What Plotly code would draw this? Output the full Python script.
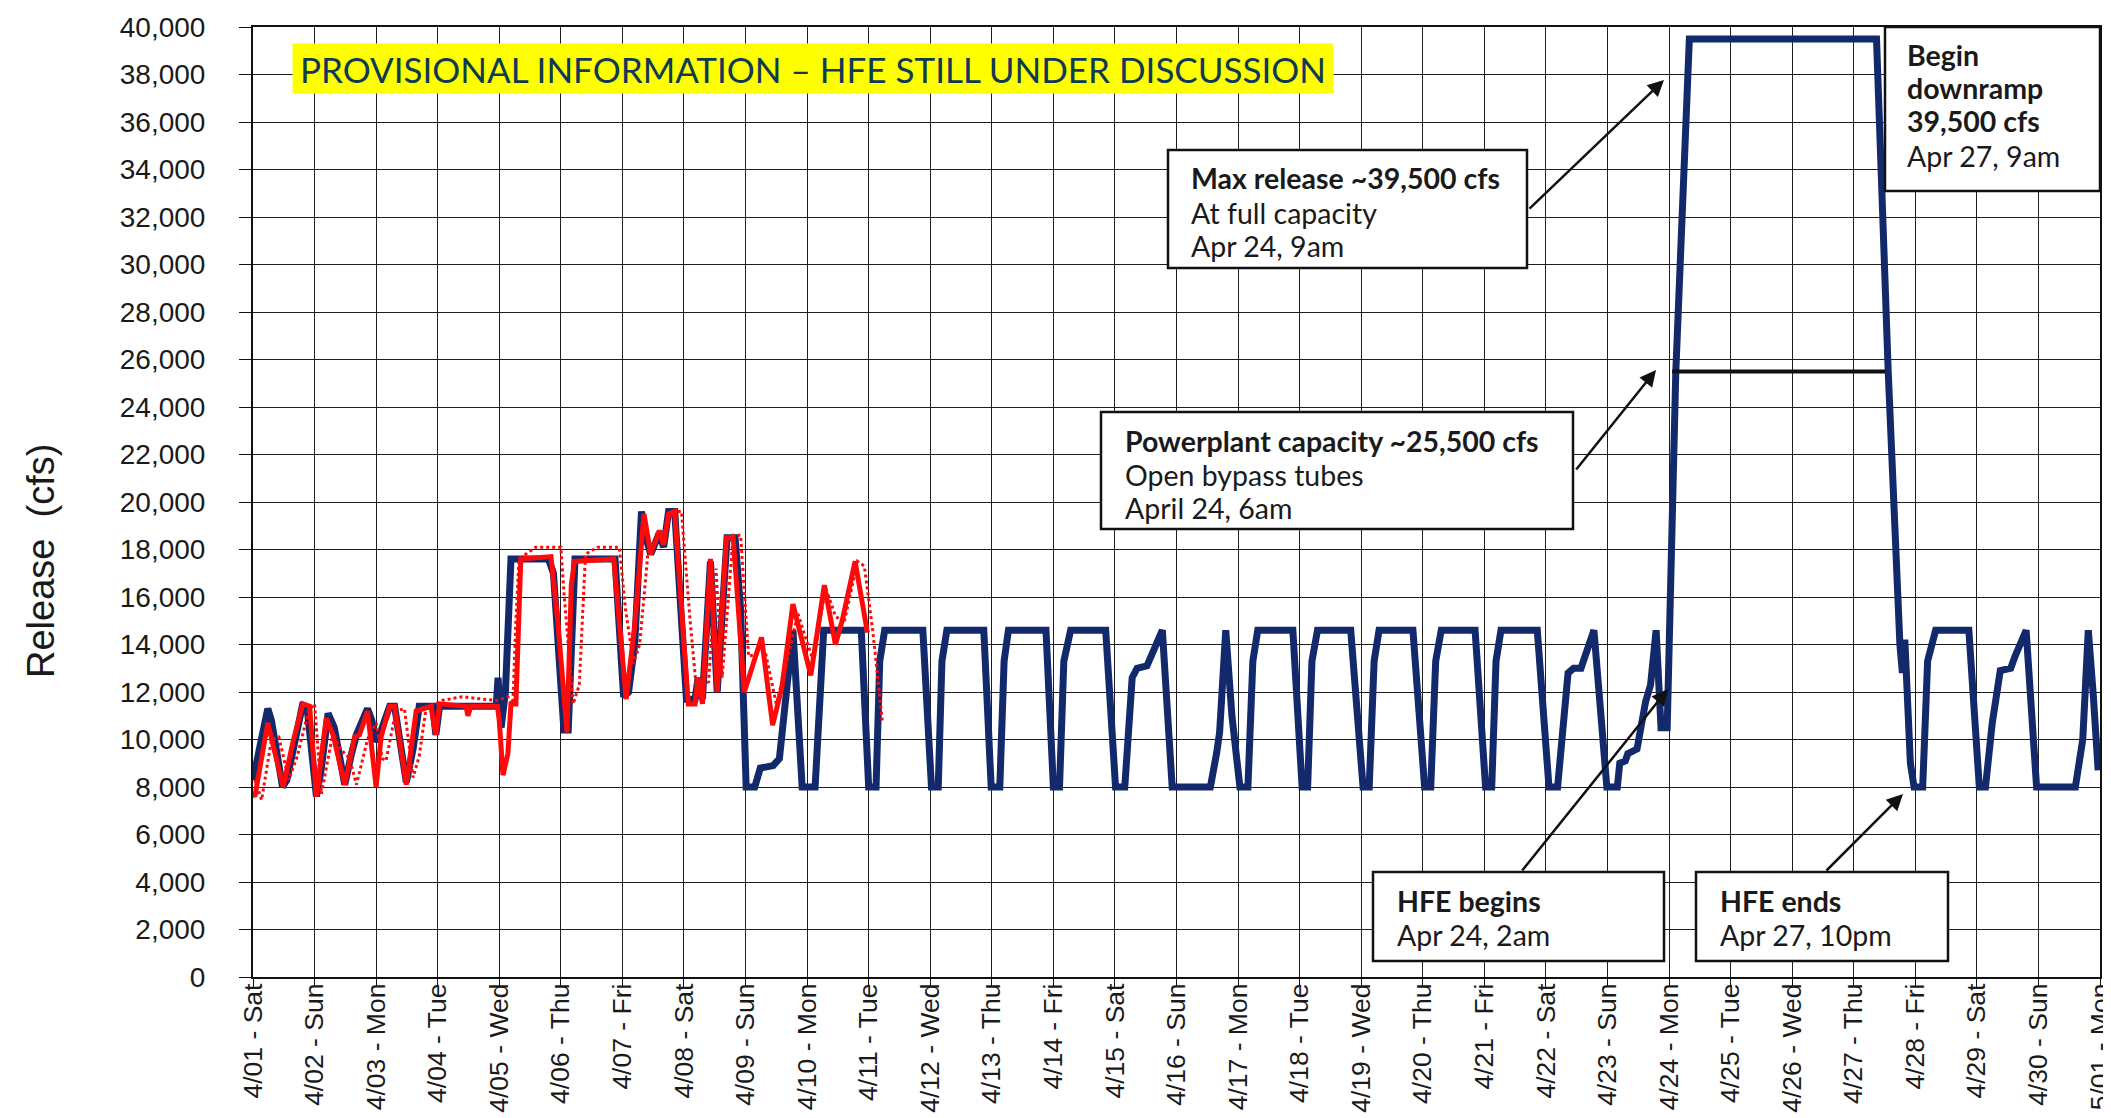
import plotly.graph_objects as go

# ---------------- data ----------------
day_labels = ["4/01 - Sat", "4/02 - Sun", "4/03 - Mon", "4/04 - Tue", "4/05 - Wed", "4/06 - Thu",
              "4/07 - Fri", "4/08 - Sat", "4/09 - Sun", "4/10 - Mon", "4/11 - Tue", "4/12 - Wed",
              "4/13 - Thu", "4/14 - Fri", "4/15 - Sat", "4/16 - Sun", "4/17 - Mon", "4/18 - Tue",
              "4/19 - Wed", "4/20 - Thu", "4/21 - Fri", "4/22 - Sat", "4/23 - Sun", "4/24 - Mon",
              "4/25 - Tue", "4/26 - Wed", "4/27 - Thu", "4/28 - Fri", "4/29 - Sat", "4/30 - Sun",
              "5/01 - Mon"]
day_ticks = list(range(len(day_labels)))

# days since 4/01 00:00, release in cfs
navy_day = [0.00, 0.05, 0.24, 0.30, 0.48, 0.55, 0.66, 0.80, 0.88, 1.03, 1.10, 1.22, 1.32, 1.49, 1.60,
            1.68, 1.86, 1.93, 2.00, 2.07, 2.22, 2.30, 2.49, 2.60, 2.70, 2.92, 2.97, 3.03, 3.95, 3.98,
            4.03, 4.10, 4.19, 4.80, 4.88, 5.05, 5.12, 5.23, 5.88, 6.02, 6.10, 6.20, 6.31, 6.37, 6.46,
            6.60, 6.67, 6.75, 6.85, 7.04, 7.18, 7.23, 7.30, 7.43, 7.54, 7.70, 7.83, 7.92, 8.01, 8.15,
            8.24, 8.45, 8.55, 8.66, 8.77, 8.92, 9.13, 9.27, 9.88, 10.00, 10.12, 10.18, 10.26, 10.88,
            11.02, 11.13, 11.19, 11.27, 11.87, 11.99, 12.13, 12.20, 12.27, 12.88, 13.00, 13.10, 13.17,
            13.28, 13.85, 14.01, 14.16, 14.28, 14.36, 14.52, 14.60, 14.77, 14.93, 15.55, 15.65, 15.70,
            15.80, 15.90, 16.03, 16.16, 16.24, 16.32, 16.89, 17.04, 17.13, 17.20, 17.29, 17.83, 18.03,
            18.13, 18.21, 18.29, 18.84, 19.03, 19.13, 19.21, 19.30, 19.85, 20.02, 20.12, 20.19, 20.27,
            20.86, 21.05, 21.19, 21.28, 21.36, 21.45, 21.57, 21.78, 21.99, 22.16, 22.20, 22.29, 22.33,
            22.48, 22.62, 22.70, 22.79, 22.87, 22.97, 23.11, 23.33, 26.37, 26.56, 26.75, 26.79, 26.83,
            26.92, 26.98, 27.12, 27.20, 27.33, 27.87, 28.04, 28.14, 28.25, 28.38, 28.55, 28.62, 28.80,
            28.97, 29.60, 29.72, 29.81, 29.89, 29.97]
navy_cfs = [8300, 9000, 11300, 10800, 8000, 8300, 9800, 11400, 11300, 7600, 8600, 11100, 10500, 8100, 9400,
            10200, 11300, 10800, 9900, 10300, 11400, 11400, 8200, 9600, 11400, 11400, 10200, 11400, 11400, 12600,
            10500, 12000, 17600, 17600, 17000, 10400, 10400, 17600, 17600, 11800, 12000, 14000, 19600, 18600, 17800,
            18700, 18100, 19600, 19600, 11700, 11700, 12600, 11700, 17500, 12000, 18500, 18500, 15500, 8000, 8000,
            8800, 8900, 9200, 12000, 14600, 8000, 8000, 14600, 14600, 8000, 8000, 13300, 14600, 14600,
            8000, 8000, 13300, 14600, 14600, 8000, 8000, 13300, 14600, 14600, 8000, 8000, 13300,
            14600, 14600, 8000, 8000, 12600, 13000, 13100, 13600, 14600, 8000, 8000, 9400, 10300,
            14600, 11000, 8000, 8000, 13300, 14600, 14600, 8000, 8000, 13300, 14600, 14600, 8000,
            8000, 13300, 14600, 14600, 8000, 8000, 13300, 14600, 14600, 8000, 8000, 13300, 14600,
            14600, 8000, 8000, 10700, 12800, 13000, 13000, 14600, 8000, 8000, 9000, 9100, 9400,
            9600, 11600, 12300, 14600, 10500, 10500, 25500, 39500, 39500, 25500, 14000, 12800, 14200,
            9000, 8000, 8000, 13300, 14600, 14600, 8000, 8000, 10700, 12900, 13000, 13500, 14600,
            8000, 8000, 10000, 14600, 11900, 8700]

red_day = [0.00, 0.03, 0.24, 0.49, 0.65, 0.81, 0.92, 1.03, 1.19, 1.30, 1.49, 1.65, 1.73, 1.86, 2.00,
           2.08, 2.22, 2.30, 2.49, 2.65, 2.89, 2.97, 3.03, 3.46, 3.49, 3.54, 3.97, 4.00, 4.06, 4.14,
           4.19, 4.27, 4.35, 4.84, 4.95, 5.10, 5.17, 5.22, 5.86, 6.06, 6.20, 6.35, 6.46, 6.60, 6.67,
           6.75, 6.85, 7.07, 7.18, 7.23, 7.30, 7.43, 7.54, 7.69, 7.80, 7.98, 8.26, 8.44, 8.59, 8.77,
           9.06, 9.28, 9.46, 9.57, 9.78, 9.98]
red_cfs = [7700, 7600, 10700, 8000, 9900, 11500, 11400, 7600, 10900, 10200, 8100, 10100, 10200, 11200, 8000,
           10100, 11400, 11400, 8100, 11200, 11400, 10200, 11500, 11400, 11000, 11400, 11400, 10800, 8500, 9400,
           11500, 11500, 17600, 17700, 15000, 10300, 16500, 17500, 17600, 11700, 14800, 19500, 17800, 18800, 18200,
           19500, 19600, 11500, 11500, 12600, 11500, 17600, 12000, 18500, 18500, 12000, 14300, 10600, 12200, 15700,
           12700, 16500, 14000, 15000, 17500, 14500]

dot_day = [0.03, 0.14, 0.30, 0.42, 0.58, 0.72, 0.90, 1.00, 1.11, 1.30, 1.42, 1.57, 1.68, 1.86, 2.00,
           2.10, 2.16, 2.32, 2.46, 2.60, 2.70, 2.81, 3.08, 3.40, 3.73, 3.97, 4.14, 4.22, 4.27, 4.32,
           4.59, 5.00, 5.05, 5.20, 5.30, 5.40, 5.60, 5.95, 6.05, 6.18, 6.28, 6.42, 6.55, 6.70, 6.82,
           6.96, 7.10, 7.20, 7.30, 7.40, 7.52, 7.62, 7.80, 7.92, 8.05, 8.32, 8.50, 8.62, 8.85, 9.10,
           9.30, 9.46, 9.60, 9.82, 9.93, 10.07, 10.22]
dot_cfs = [8300, 7450, 10000, 10100, 8300, 9300, 11200, 11500, 7700, 10300, 9600, 9200, 8100, 10000, 10700,
           9200, 9100, 11200, 11300, 8400, 9300, 11300, 11650, 11800, 11700, 11650, 11800, 11500, 15000, 17600,
           18100, 18100, 16200, 11500, 12300, 17800, 18100, 18100, 15500, 13200, 14000, 18000, 18300, 18800, 19600,
           19600, 15000, 12200, 12600, 12400, 17200, 12600, 18600, 18600, 13500, 13700, 11500, 12700, 15300, 13300,
           16400, 15200, 14900, 17500, 17300, 14500, 10800]

powerplant_day = [23.05, 26.51]
powerplant_cfs = [25500, 25500]

# ---------------- layout geometry ----------------
W, H = 2111, 1118
ML, MR, MT, MB = 245, 19, 19, 149
PW, PH = W - ML - MR, H - MT - MB


def px(X):
    return (X - ML) / PW


def py(Y):
    return (H - MB - Y) / PH


NAVY = "#12296b"
RED = "#ff0a0a"
TXT = "#1a1a1a"

fig = go.Figure()
fig.add_trace(go.Scatter(x=navy_day, y=navy_cfs, mode="lines",
                         line=dict(color=NAVY, width=7), showlegend=False))
fig.add_trace(go.Scatter(x=dot_day, y=dot_cfs, mode="lines",
                         line=dict(color=RED, width=3, dash="dot"), showlegend=False))
fig.add_trace(go.Scatter(x=red_day, y=red_cfs, mode="lines",
                         line=dict(color=RED, width=5), showlegend=False))
fig.add_trace(go.Scatter(x=powerplant_day, y=powerplant_cfs, mode="lines",
                         line=dict(color="#111111", width=4), showlegend=False))

shapes = []
annotations = []

boxes = [
    # (x0, x1, y0, y1, text_left, [(line_center_y, text), ...])
    (1160, 1519, 142, 260, 1181,
     [(170, "<b>Max release ~39,500 cfs</b>"), (205, "At full capacity"), (238, "Apr 24, 9am")]),
    (1093, 1565, 404, 521, 1115,
     [(433, "<b>Powerplant capacity ~25,500 cfs</b>"), (467, "Open bypass tubes"), (500, "April 24, 6am")]),
    (1877, 2092, 19, 183, 1897,
     [(47, "<b>Begin</b>"), (80, "<b>downramp</b>"), (113, "<b>39,500 cfs</b>"), (148, "Apr 27, 9am")]),
    (1365, 1656, 864, 953, 1387,
     [(893, "<b>HFE begins</b>"), (927, "Apr 24, 2am")]),
    (1688, 1940, 864, 953, 1710,
     [(893, "<b>HFE ends</b>"), (927, "Apr 27, 10pm")]),
]
for x0, x1, y0, y1, tl, lines in boxes:
    shapes.append(dict(type="rect", xref="paper", yref="paper",
                       x0=px(x0), x1=px(x1), y0=py(y1), y1=py(y0),
                       line=dict(color="#111111", width=2.5), fillcolor="white", layer="above"))
    for cy, txt in lines:
        annotations.append(dict(xref="paper", yref="paper", x=px(tl), y=py(cy), text=txt,
                                showarrow=False, xanchor="left", yanchor="middle", align="left",
                                font=dict(family="Lato", size=28.5, color=TXT)))

arrows = [
    # (tail_x, tail_y, head_x, head_y)
    (1520, 202, 1656, 72),
    (1567, 463, 1648, 362),
    (1513, 864, 1660, 681),
    (1817, 864, 1895, 786),
]
for tx, ty, hx, hy in arrows:
    annotations.append(dict(xref="paper", yref="paper", x=px(hx), y=py(hy), text="",
                            showarrow=True, ax=tx - hx, ay=ty - hy, axref="pixel", ayref="pixel",
                            arrowhead=2, arrowsize=1.3, arrowwidth=2.5, arrowcolor="#111111",
                            standoff=0, startstandoff=0))

annotations.append(dict(xref="paper", yref="paper", x=px(805), y=py(60.5),
                        text="PROVISIONAL INFORMATION \u2013 HFE STILL UNDER DISCUSSION",
                        showarrow=False, xanchor="center", yanchor="middle",
                        bgcolor="#ffff00", borderpad=0, width=1040, height=49,
                        font=dict(family="Lato", size=35, color="#0e3a56")))

annotations.append(dict(xref="paper", yref="paper", x=px(33), y=py(553),
                        text="Release&nbsp;&nbsp;(cfs)", textangle=-90, showarrow=False,
                        xanchor="center", yanchor="middle",
                        font=dict(family="Liberation Sans", size=38, color=TXT)))

fig.update_layout(
    width=W, height=H,
    margin=dict(l=ML, r=MR, t=MT, b=MB, autoexpand=False),
    paper_bgcolor="white", plot_bgcolor="white",
    shapes=shapes, annotations=annotations,
    xaxis=dict(range=[0, 30], tickmode="array", tickvals=day_ticks, ticktext=day_labels,
               tickangle=-90, showgrid=True, gridcolor="#1e1e1e", gridwidth=1.4,
               showline=True, linecolor="#111111", linewidth=2, mirror=True,
               ticks="outside", ticklen=8, tickwidth=1.4, tickcolor="#111111",
               ticklabelstandoff=-14, zeroline=False, automargin=False,
               tickfont=dict(family="Liberation Sans", size=26.5, color=TXT)),
    yaxis=dict(range=[0, 40000], dtick=2000, tickformat=",", showgrid=True,
               gridcolor="#1e1e1e", gridwidth=1.4,
               showline=True, linecolor="#111111", linewidth=2, mirror=True,
               ticks="outside", ticklen=12, tickwidth=1.4, tickcolor="#111111",
               ticksuffix="\u2003", zeroline=False, automargin=False,
               tickfont=dict(family="Liberation Sans", size=28, color=TXT)),
)

fig.write_html("out.html")
